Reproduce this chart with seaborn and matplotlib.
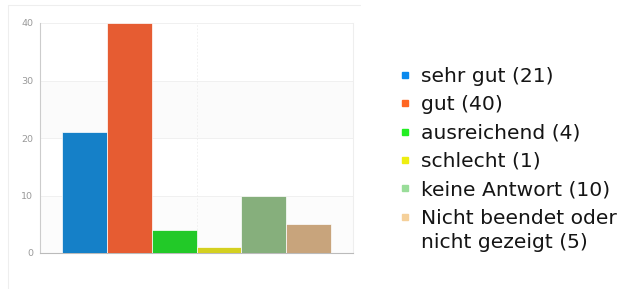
import matplotlib
matplotlib.use("Agg")
import matplotlib.pyplot as plt
import seaborn as sns
import pandas as pd
from matplotlib.lines import Line2D

categories = ["sehr gut", "gut", "ausreichend", "schlecht", "keine Antwort",
              "Nicht beendet oder\nnicht gezeigt"]
values = [21, 40, 4, 1, 10, 5]
bar_colors = ["#1580C8", "#E65C32", "#22C928", "#D4D020", "#86AF7C", "#C8A47C"]
legend_colors = ["#0A8AEE", "#FF6622", "#22EE22", "#EEEE11", "#99DD99", "#F5D09A"]
y_ticks = [0, 10, 20, 30, 40]

df = pd.DataFrame({"group": [""] * len(categories), "Antwort": categories, "Anzahl": values})

sns.set_style("white")
plt.rcParams["font.family"] = ["DejaVu Sans"]

fig = plt.figure(figsize=(6.24, 2.89), dpi=100)
ax = fig.add_axes([40 / 624, 1 - 253 / 289, 313 / 624, 230 / 289])

# outer light frame (top and left edges)
fig.add_artist(Line2D([8 / 624, 360 / 624], [1 - 5 / 289, 1 - 5 / 289],
                      transform=fig.transFigure, color="#EEEEEE", lw=0.8))
fig.add_artist(Line2D([8 / 624, 8 / 624], [0, 1 - 5 / 289],
                      transform=fig.transFigure, color="#EEEEEE", lw=0.8))

# faint bands
for lo, hi, c in [(0, 10, "#FCFCFC"), (20, 30, "#FBFBFB")]:
    ax.axhspan(lo, hi, color=c, zorder=0, lw=0)

sns.barplot(data=df, x="group", y="Anzahl", hue="Antwort", palette=bar_colors,
            width=0.86, dodge=True, ax=ax, legend=False, edgecolor="white",
            linewidth=0.5, saturation=1, zorder=3)

ax.set_xlim(-0.5, 0.5)
ax.set_ylim(0, 40)
ax.set_yticks(y_ticks)
ax.set_yticklabels([str(t) for t in y_ticks], color="#999999", fontsize=6.8)
ax.set_xticks([])
ax.set_xlabel("")
ax.set_ylabel("")
ax.tick_params(axis="y", length=0, pad=5)
for y in y_ticks:
    ax.axhline(y, color="#EEEEEE", lw=0.6, zorder=1)
ax.axvline(0, color="#EEEEEE", lw=0.6, ls=(0, (2, 2)), zorder=1)
ax.spines["top"].set_visible(False)
ax.spines["right"].set_color("#EEEEEE")
ax.spines["right"].set_linewidth(0.8)
ax.spines["left"].set_color("#CCCCCC")
ax.spines["left"].set_linewidth(0.8)
ax.spines["bottom"].set_color("#BBBBBB")
ax.spines["bottom"].set_linewidth(0.8)

labels = [f"{c} ({v})" for c, v in zip(categories, values)]
first_lines = [l.split("\n")[0] for l in labels]
handles = [Line2D([], [], marker="s", linestyle="", markersize=5,
                  markerfacecolor=c, markeredgecolor=c) for c in legend_colors]
leg = fig.legend(handles, first_lines, loc="upper left",
                 bbox_to_anchor=(399 / 624, 1 - 67 / 289),
                 frameon=False, fontsize=14.6, handlelength=0.6, handletextpad=0.5,
                 labelspacing=0.46, borderpad=0, borderaxespad=0,
                 labelcolor="#151515")

# continuation line of the wrapped last label
fig.canvas.draw()
last = leg.get_texts()[-1]
bb = last.get_window_extent()
rest = "\n".join(labels[-1].split("\n")[1:])
fig.text(bb.x0 / 624, (bb.y0 - 24.5) / 289, rest, fontsize=14.6, color="#151515",
         ha="left", va="bottom")

fig.savefig("out.png", dpi=100)
